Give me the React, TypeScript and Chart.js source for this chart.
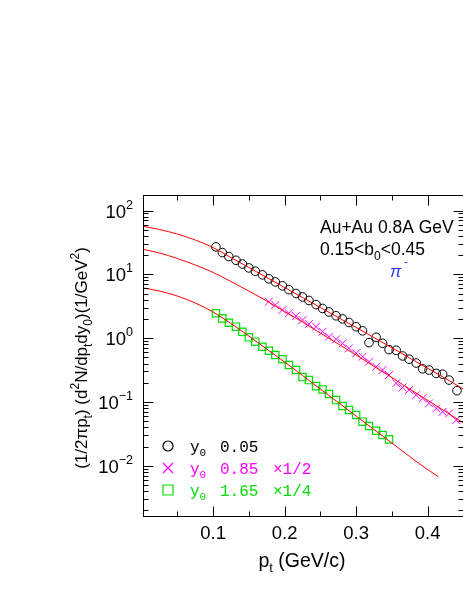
import React, { useEffect, useRef } from 'react';
import { Chart, registerables } from 'chart.js';

Chart.register(...registerables);

// ---- data ----
const FIT_PT = [0, 0.025, 0.05, 0.075, 0.1, 0.125, 0.15, 0.175, 0.2, 0.225, 0.25, 0.275, 0.3, 0.325, 0.35, 0.375, 0.4, 0.425, 0.45];
const FIT_TOP = [57.1, 50.4, 42.8, 34.5, 26.3, 18.3, 12.8, 8.91, 6.21, 4.33, 3.02, 2.1, 1.47, 1.02, 0.705, 0.488, 0.337, 0.233, 0.159];
const FIT_MID = [24.9, 21.6, 17.7, 14.0, 10.7, 7.71, 5.47, 3.82, 2.61, 1.79, 1.2, 0.809, 0.544, 0.361, 0.241, 0.159, 0.106, 0.0708, 0.0467];
const FIT_LOW_PT = [0, 0.025, 0.05, 0.075, 0.1, 0.125, 0.15, 0.175, 0.2, 0.225, 0.25, 0.275, 0.3, 0.325, 0.35, 0.375, 0.4, 0.415];
const FIT_LOW = [6.17, 5.47, 4.57, 3.55, 2.57, 1.69, 1.08, 0.675, 0.422, 0.26, 0.159, 0.0979, 0.0601, 0.0369, 0.0227, 0.0139, 0.0087, 0.00673];

const Y005_PT = [0.104, 0.113, 0.122, 0.132, 0.141, 0.15, 0.159, 0.169, 0.178, 0.187, 0.197, 0.206, 0.216, 0.225, 0.234, 0.244, 0.253, 0.262, 0.272, 0.281, 0.29, 0.3, 0.309, 0.318, 0.328, 0.337, 0.346, 0.356, 0.365, 0.374, 0.384, 0.393, 0.402, 0.412, 0.421, 0.43, 0.441];
const Y005_VAL = [26.9, 21.9, 19.0, 16.6, 14.5, 12.6, 11.2, 9.8, 8.5, 7.6, 6.6, 5.75, 5.0, 4.42, 3.89, 3.35, 2.92, 2.57, 2.24, 2.0, 1.76, 1.51, 1.3, 0.85, 1.03, 0.83, 0.66, 0.645, 0.525, 0.468, 0.407, 0.33, 0.316, 0.28, 0.272, 0.22, 0.15];

const Y085_PT = [0.178, 0.187, 0.197, 0.206, 0.216, 0.225, 0.234, 0.244, 0.253, 0.262, 0.272, 0.281, 0.29, 0.3, 0.309, 0.318, 0.328, 0.337, 0.346, 0.356, 0.365, 0.374, 0.384, 0.393, 0.402, 0.412, 0.421, 0.43, 0.44];
const Y085_VAL = [3.72, 3.31, 2.76, 2.45, 2.22, 1.92, 1.66, 1.51, 1.26, 1.05, 0.957, 0.828, 0.691, 0.578, 0.511, 0.427, 0.356, 0.316, 0.264, 0.196, 0.169, 0.154, 0.128, 0.114, 0.095, 0.079, 0.07, 0.066, 0.052];

const Y165_PT = [0.104, 0.113, 0.122, 0.132, 0.141, 0.15, 0.159, 0.169, 0.178, 0.187, 0.197, 0.206, 0.216, 0.225, 0.234, 0.244, 0.253, 0.262, 0.272, 0.281, 0.29, 0.3, 0.309, 0.318, 0.328, 0.337, 0.346];
const Y165_VAL = [2.45, 2.04, 1.74, 1.51, 1.26, 1.03, 0.879, 0.733, 0.635, 0.543, 0.466, 0.379, 0.316, 0.245, 0.22, 0.177, 0.157, 0.133, 0.107, 0.0863, 0.0747, 0.0624, 0.049, 0.0419, 0.0354, 0.0303, 0.0259];

const X_MAJOR = [0.1, 0.2, 0.3, 0.4];
const X_MINOR = [0.05, 0.15, 0.25, 0.35];
const X_LABELS = ['0.1', '0.2', '0.3', '0.4'];
const Y_DECADES = [-2, -1, 0, 1, 2];

const X_MIN = 0.002;
const X_MAX = 0.45;
const Y_MIN = 0.00163;
const Y_MAX = 175;

const RED = '#ff0000';
const MAGENTA = '#ff00ff';
const GREEN = '#00dd00';
const BLUE = '#3333ff';
const SANS = '"Liberation Sans", Arial, Helvetica, sans-serif';
const MONO = '"Liberation Mono", "DejaVu Sans Mono", monospace';

type Part = { t: string; k?: 'sup' | 'sub' };

function partFont(p: Part, size: number, family: string, style = '') {
  const s = p.k ? Math.round(size * 0.68) : size;
  return `${style} ${s}px ${family}`;
}

function richWidth(ctx: CanvasRenderingContext2D, parts: Part[], size: number, family: string, style = '') {
  let w = 0;
  for (const p of parts) {
    ctx.font = partFont(p, size, family, style);
    w += ctx.measureText(p.t).width;
  }
  return w;
}

function drawRich(
  ctx: CanvasRenderingContext2D,
  parts: Part[],
  x: number,
  y: number,
  align: 'left' | 'center' | 'right',
  size: number,
  family: string,
  color: string,
  style = ''
) {
  const w = richWidth(ctx, parts, size, family, style);
  let cx = align === 'left' ? x : align === 'center' ? x - w / 2 : x - w;
  ctx.fillStyle = color;
  ctx.textAlign = 'left';
  ctx.textBaseline = 'alphabetic';
  for (const p of parts) {
    ctx.font = partFont(p, size, family, style);
    const dy = p.k === 'sup' ? -size * 0.45 : p.k === 'sub' ? size * 0.28 : 0;
    ctx.fillText(p.t, cx, y + dy);
    cx += ctx.measureText(p.t).width;
  }
}

const rootPlugin = {
  id: 'rootFrame',
  afterDatasetsDraw(chart: any) {
    const { ctx, chartArea: a, scales } = chart;
    const xs = scales.x;
    const ys = scales.y;
    const L = Math.round(a.left) + 0.5;
    const R = Math.round(a.right) + 0.5;
    const T = Math.round(a.top) + 0.5;
    const B = Math.round(a.bottom) + 0.5;
    ctx.save();
    ctx.strokeStyle = '#000';
    ctx.lineWidth = 1;
    ctx.strokeRect(L, T, R - L, B - T);

    ctx.beginPath();
    const xt = (v: number, len: number) => {
      const px = Math.round(xs.getPixelForValue(v)) + 0.5;
      ctx.moveTo(px, B);
      ctx.lineTo(px, B - len);
      ctx.moveTo(px, T);
      ctx.lineTo(px, T + len);
    };
    X_MAJOR.forEach((v) => xt(v, 10));
    X_MINOR.forEach((v) => xt(v, 5));
    for (let n = -3; n <= 2; n++) {
      for (let k = 1; k <= 9; k++) {
        const v = k * Math.pow(10, n);
        if (v < Y_MIN || v > Y_MAX) continue;
        const py = Math.round(ys.getPixelForValue(v)) + 0.5;
        const len = k === 1 ? 10 : 5;
        ctx.moveTo(L, py);
        ctx.lineTo(L + len, py);
        ctx.moveTo(R, py);
        ctx.lineTo(R - len, py);
      }
    }
    ctx.stroke();

    // x labels
    X_MAJOR.forEach((v, i) => {
      drawRich(ctx, [{ t: X_LABELS[i] }], xs.getPixelForValue(v), 539, 'center', 18.5, SANS, '#000');
    });
    // y labels
    Y_DECADES.forEach((n) => {
      const py = ys.getPixelForValue(Math.pow(10, n));
      ctx.font = `12.5px ${SANS}`;
      const ew = ctx.measureText(String(n).replace('-', '\u2212')).width;
      ctx.fillStyle = '#000';
      ctx.textAlign = 'left';
      ctx.textBaseline = 'alphabetic';
      ctx.fillText(String(n).replace('-', '\u2212'), 133 - ew, py - 2);
      ctx.font = `18.5px ${SANS}`;
      ctx.textAlign = 'right';
      ctx.fillText('10', 133 - ew, py + 7);
    });

    // x title
    drawRich(ctx, [{ t: 'p' }, { t: 't', k: 'sub' }, { t: ' (GeV/c)' }], 302, 567, 'center', 19.5, SANS, '#000');

    // y title
    ctx.save();
    ctx.translate(87, 358);
    ctx.rotate(-Math.PI / 2);
    drawRich(
      ctx,
      [
        { t: '(1/2\u03c0p' },
        { t: 't', k: 'sub' },
        { t: ') (d' },
        { t: '2', k: 'sup' },
        { t: 'N/dp' },
        { t: 't', k: 'sub' },
        { t: 'dy' },
        { t: '0', k: 'sub' },
        { t: ')(1/GeV' },
        { t: '2', k: 'sup' },
        { t: ')' },
      ],
      0,
      0,
      'center',
      17,
      SANS,
      '#000'
    );
    ctx.restore();

    // annotations
    drawRich(ctx, [{ t: 'Au+Au 0.8A GeV' }], 320, 233, 'left', 17.5, SANS, '#000');
    drawRich(ctx, [{ t: '0.15<b' }, { t: '0', k: 'sub' }, { t: '<0.45' }], 320, 255, 'left', 17.5, SANS, '#000');
    drawRich(ctx, [{ t: '\u03c0' }], 390, 277, 'left', 17, SANS, BLUE, 'italic');
    drawRich(ctx, [{ t: '-' }], 404, 266, 'left', 12, SANS, BLUE);

    // legend
    const rows = [
      { y: 446, color: '#000', val: '0.05', fac: '', mk: 'circle' },
      { y: 468, color: MAGENTA, val: '0.85', fac: '\u00d71/2', mk: 'cross' },
      { y: 490, color: GREEN, val: '1.65', fac: '\u00d71/4', mk: 'rect' },
    ];
    rows.forEach((r) => {
      ctx.strokeStyle = r.color;
      ctx.lineWidth = 1.2;
      ctx.beginPath();
      const mx = 168;
      if (r.mk === 'circle') {
        ctx.arc(mx, r.y, 5, 0, Math.PI * 2);
      } else if (r.mk === 'cross') {
        ctx.moveTo(mx - 5, r.y - 5);
        ctx.lineTo(mx + 5, r.y + 5);
        ctx.moveTo(mx + 5, r.y - 5);
        ctx.lineTo(mx - 5, r.y + 5);
      } else {
        ctx.rect(mx - 5, r.y - 5, 10, 10);
      }
      ctx.stroke();
      drawRich(ctx, [{ t: 'y' }, { t: '0', k: 'sub' }], 190, r.y + 6, 'left', 16, MONO, r.color);
      drawRich(ctx, [{ t: r.val }], 220, r.y + 6, 'left', 16, MONO, r.color);
      if (r.fac) drawRich(ctx, [{ t: r.fac }], 273, r.y + 6, 'left', 16, MONO, r.color);
    });

    ctx.restore();
  },
};

function pts(xsArr: number[], ysArr: number[]) {
  return xsArr.map((x, i) => ({ x, y: ysArr[i] }));
}

export default function App() {
  const ref = useRef<HTMLCanvasElement | null>(null);
  useEffect(() => {
    if (!ref.current) return;
    const fitStyle = {
      showLine: true,
      borderColor: RED,
      borderWidth: 1,
      pointRadius: 0,
      cubicInterpolationMode: 'monotone' as const,
      fill: false,
    };
    const chart = new Chart(ref.current, {
      type: 'scatter',
      data: {
        datasets: [
          { ...fitStyle, data: pts(FIT_PT, FIT_TOP) },
          { ...fitStyle, data: pts(FIT_PT, FIT_MID) },
          { ...fitStyle, data: pts(FIT_LOW_PT, FIT_LOW) },
          {
            data: pts(Y005_PT, Y005_VAL),
            pointStyle: 'circle',
            pointRadius: 4.3,
            borderColor: '#000',
            backgroundColor: 'rgba(0,0,0,0)',
            pointBorderWidth: 1,
          },
          {
            data: pts(Y085_PT, Y085_VAL),
            pointStyle: 'crossRot',
            pointRadius: 5.6,
            borderColor: MAGENTA,
            backgroundColor: MAGENTA,
            pointBorderWidth: 1,
          },
          {
            data: pts(Y165_PT, Y165_VAL),
            pointStyle: 'rect',
            pointRadius: 5.2,
            borderColor: GREEN,
            backgroundColor: 'rgba(0,0,0,0)',
            pointBorderWidth: 1.2,
          },
        ],
      },
      options: {
        responsive: false,
        animation: false,
        devicePixelRatio: 1,
        layout: { padding: { left: 143, top: 195, right: 6, bottom: 83 } },
        plugins: { legend: { display: false }, tooltip: { enabled: false }, title: { display: false } },
        scales: {
          x: { type: 'linear', min: X_MIN, max: X_MAX, display: false },
          y: { type: 'logarithmic', min: Y_MIN, max: Y_MAX, display: false },
        },
        events: [],
      },
      plugins: [rootPlugin],
    });
    return () => chart.destroy();
  }, []);
  return (
    <div style={{ position: 'fixed', left: 0, top: 0, width: 463, height: 599, overflow: 'hidden', background: '#fff' }}>
      <canvas ref={ref} width={470} height={599} style={{ display: 'block', width: 470, height: 599 }} />
    </div>
  );
}
